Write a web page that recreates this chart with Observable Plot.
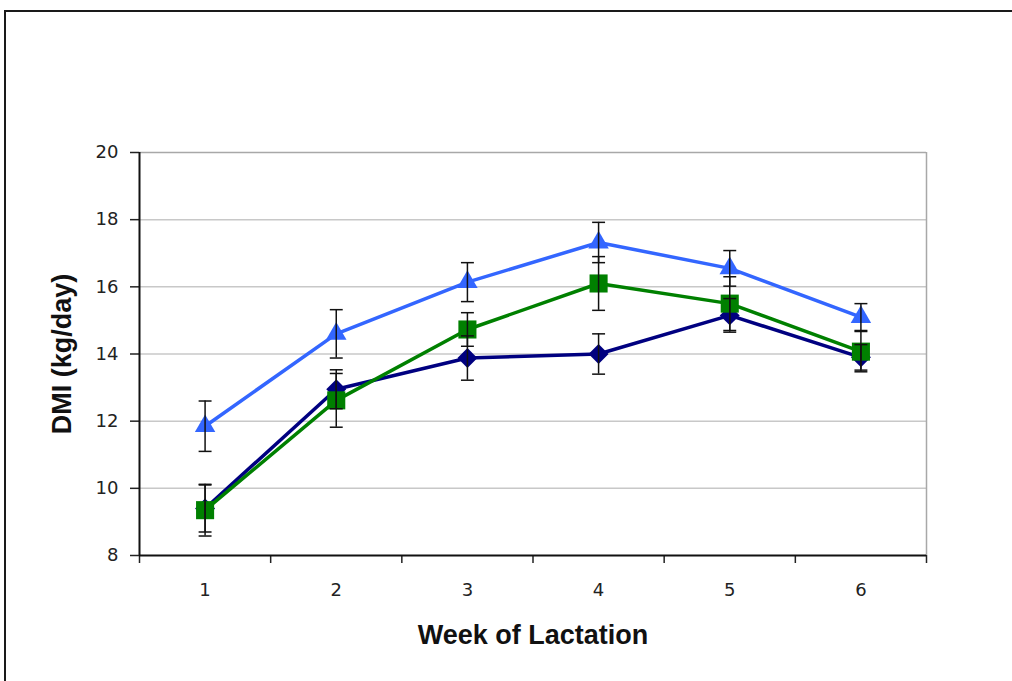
<!DOCTYPE html>
<html><head><meta charset="utf-8">
<script src="https://cdn.jsdelivr.net/npm/d3@7"></script>
<script src="https://cdn.jsdelivr.net/npm/@observablehq/plot@0.6"></script>
<style>
body{margin:0;background:#fff;}
#wrap{position:relative;width:1012px;height:681px;overflow:hidden;background:#fff;}
#frame{position:absolute;left:4px;top:10px;width:1100px;height:800px;border:2px solid #1a1a1a;box-sizing:border-box;pointer-events:none;}
</style></head><body><div id="wrap"><div id="chart"></div><div id="frame"></div></div>
<script>
const weeks = [1, 2, 3, 4, 5, 6];
const xTickLabels = ["1", "2", "3", "4", "5", "6"];
const yTicks = [8, 10, 12, 14, 16, 18, 20];
const seriesNames = ["Series 1", "Series 2", "Series 3"];
const series1DMI = [9.4, 12.95, 13.88, 14.0, 15.15, 13.9];
const series1Err = [0.7, 0.58, 0.66, 0.6, 0.5, 0.38];
const series2DMI = [9.35, 12.62, 14.73, 16.1, 15.5, 14.07];
const series2Err = [0.77, 0.8, 0.5, 0.8, 0.8, 0.6];
const series3DMI = [11.85, 14.6, 16.14, 17.32, 16.55, 15.1];
const series3Err = [0.75, 0.72, 0.58, 0.6, 0.53, 0.4];
const xTitle = "Week of Lactation";
const yTitle = "DMI (kg/day)";

const styles = [
  {color: "#000080", symbol: d3.symbolDiamond2, r: 9},
  {color: "#008000", symbol: d3.symbolSquare, r: 10.2},
  {color: "#3366ff", symbol: d3.symbolTriangle, r: 7.6}
];
const values = [series1DMI, series2DMI, series3DMI];
const errs = [series1Err, series2Err, series3Err];
const tables = seriesNames.map((name, s) => weeks.map((w, i) => ({
  series: name, week: w, dmi: values[s][i], lo: values[s][i] - errs[s][i], hi: values[s][i] + errs[s][i]
})));
const allRows = tables.flat();
const boundaries = [weeks[0] - 0.5, ...weeks.map(w => w + 0.5)];
const capSymbol = {draw(ctx, size) { const w = Math.sqrt(size) / 2; ctx.moveTo(-w, 0); ctx.lineTo(w, 0); }};
const font = "'Liberation Sans', Arial, sans-serif";
const tickFont = "'DejaVu Sans', sans-serif";

const chart = Plot.plot({
  width: 1012, height: 681,
  marginLeft: 139, marginRight: 86, marginTop: 152, marginBottom: 126,
  x: {type: "linear", domain: [boundaries[0], boundaries[boundaries.length - 1]]},
  y: {domain: [yTicks[0], yTicks[yTicks.length - 1]]},
  style: {fontFamily: font, fontSize: "18px", color: "#222", background: "#fff"},
  marks: [
    Plot.ruleY(yTicks.slice(1, -1), {stroke: "#c8c8c8", strokeWidth: 1.5}),
    Plot.ruleY(yTicks.slice(-1), {stroke: "#a8a8a8", strokeWidth: 1.5}),
    Plot.ruleX(boundaries.slice(-1), {stroke: "#a8a8a8", strokeWidth: 1.5}),
    Plot.axisY({ticks: yTicks, tickSize: 9, tickPadding: 12, label: null, tickFormat: d => String(d), strokeWidth: 1.5, fontSize: 18, fontFamily: tickFont, fill: "#222"}),
    Plot.axisX({ticks: boundaries, tickSize: 8, tickFormat: () => "", label: null, strokeWidth: 1.5}),
    Plot.axisX({ticks: weeks, tickSize: 0, tickPadding: 28, tickFormat: d => xTickLabels[weeks.indexOf(d)], label: null, fontSize: 18, fontFamily: tickFont, fill: "#222"}),
    Plot.ruleX(boundaries.slice(0, 1), {stroke: "#111", strokeWidth: 2}),
    Plot.ruleY(yTicks.slice(0, 1), {stroke: "#111", strokeWidth: 2}),
    ...tables.map((t, s) => Plot.line(t, {x: "week", y: "dmi", stroke: styles[s].color, strokeWidth: 3.5})),
    ...tables.map((t, s) => Plot.dot(t, {x: "week", y: "dmi", symbol: styles[s].symbol, r: styles[s].r, fill: styles[s].color, stroke: "none"})),
    Plot.ruleX(allRows, {x: "week", y1: "lo", y2: "hi", stroke: "#111", strokeWidth: 1.5}),
    Plot.dot(allRows, {x: "week", y: "lo", symbol: capSymbol, r: 7.3, stroke: "#111", strokeWidth: 1.5, fill: "none"}),
    Plot.dot(allRows, {x: "week", y: "hi", symbol: capSymbol, r: 7.3, stroke: "#111", strokeWidth: 1.5, fill: "none"}),
    Plot.text([xTitle], {text: d => d, frameAnchor: "bottom", dy: 88, fontSize: 27, fontWeight: "bold", fill: "#111", textAnchor: "middle", fontFamily: font}),
    Plot.text([yTitle], {text: d => d, frameAnchor: "left", dx: -77, rotate: -90, fontSize: 27, fontWeight: "bold", fill: "#111", textAnchor: "middle", fontFamily: font})
  ]
});
d3.select(chart).selectAll("g").filter(function() { return (this.getAttribute("aria-label") || "").includes("tick label"); })
  .attr("font-size", 18).attr("font-family", tickFont);
document.getElementById("chart").appendChild(chart);
</script>
</body></html>
